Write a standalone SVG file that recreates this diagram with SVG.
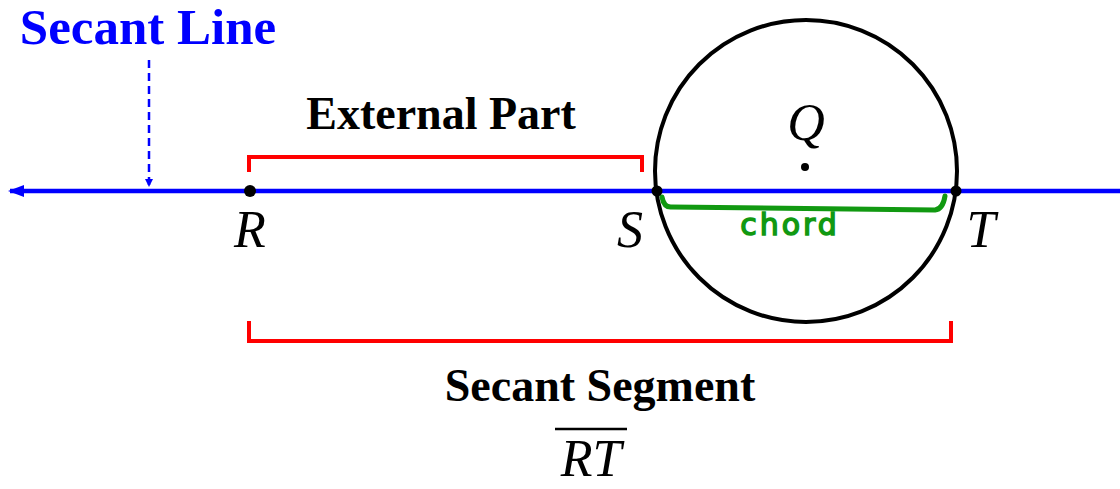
<svg xmlns="http://www.w3.org/2000/svg" width="1120" height="489" viewBox="0 0 1120 489">
<style>
.lbl{font-family:"Liberation Serif",serif;font-style:italic;font-size:52px;fill:#000}
.bold{font-family:"Liberation Serif",serif;font-weight:bold;font-size:46px;fill:#000}
.red{fill:none;stroke:#ff0000;stroke-width:4}
</style>
<defs>
<marker id="ah" markerWidth="8" markerHeight="8" refX="7" refY="4" orient="auto" markerUnits="userSpaceOnUse">
<path d="M0,0 L8,4 L0,8 z" fill="#0000ff"/>
</marker>
<marker id="ahs" markerWidth="16" markerHeight="12" refX="14" refY="6" orient="auto" markerUnits="userSpaceOnUse">
<path d="M0,0 L16,6 L0,12 z" fill="#0000ff"/>
</marker>
</defs>
<g id="connectors">
<line x1="1120" y1="191" x2="10" y2="191" stroke="#0000ff" stroke-width="4.5" marker-end="url(#ahs)"/>
<line x1="149" y1="60" x2="149" y2="186" stroke="#0000ff" stroke-width="2.5" stroke-dasharray="8,5" marker-end="url(#ah)"/>
<path class="red" d="M249,172 V157 H642 V172"/>
<path class="red" d="M249,321 V341 H951 V321"/>
<path d="M662,197 Q664,208 672,207 L935,210 Q943,209 945,196" fill="none" stroke="#119911" stroke-width="5" stroke-linecap="round"/>
</g>
<g id="circle">
<circle cx="806" cy="171" r="151" fill="none" stroke="#000" stroke-width="4"/>
<circle cx="805" cy="167" r="4" fill="#000"/>
<text class="lbl" x="806" y="140" text-anchor="middle">Q</text>
</g>
<g id="R"><circle cx="250" cy="191" r="6" fill="#000"/><text class="lbl" x="250" y="247" text-anchor="middle">R</text></g>
<g id="S"><circle cx="657" cy="191" r="5.5" fill="#000"/><text class="lbl" x="630" y="247" text-anchor="middle">S</text></g>
<g id="T"><circle cx="956" cy="191" r="5.5" fill="#000"/><text class="lbl" x="981" y="247" text-anchor="middle">T</text></g>
<g id="secant-line-label"><text x="148" y="44" text-anchor="middle" font-family="Liberation Serif,serif" font-weight="bold" font-size="51" fill="#0000ff">Secant Line</text></g>
<g id="external-part"><text class="bold" x="441" y="129" text-anchor="middle">External Part</text></g>
<g id="secant-segment"><text class="bold" x="600" y="401" text-anchor="middle">Secant Segment</text>
<line x1="555" y1="429" x2="627" y2="429" stroke="#000" stroke-width="2.5"/>
<text class="lbl" x="591" y="476" text-anchor="middle" font-size="50">RT</text></g>
<g id="chord"><text x="790" y="235" text-anchor="middle" font-family="DejaVu Sans,sans-serif" font-size="30" fill="#119911" stroke="#119911" stroke-width="1.5" letter-spacing="3">chord</text></g>
</svg>
